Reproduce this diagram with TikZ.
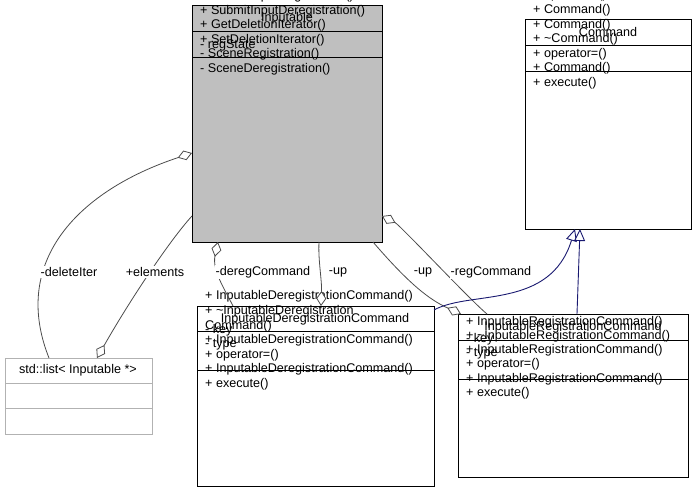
\documentclass[tikz,border=0pt]{standalone}
\usepackage{fontspec}
\setmainfont{Liberation Sans}
\usetikzlibrary{arrows.meta}
\definecolor{navy}{RGB}{25,25,112}
\definecolor{boxgray}{RGB}{191,191,191}
\begin{document}
\begin{tikzpicture}[x=1pt,y=-1pt,
  txt/.style={font=\fontsize{12.6}{14.6}\selectfont, inner sep=0pt, align=left, anchor=base west},
  ttl/.style={font=\fontsize{12.6}{12}\selectfont, inner sep=0pt},
  lbl/.style={font=\fontsize{12.6}{12}\selectfont, inner sep=1pt, fill=white},
  box/.style={draw=black, line width=0.9pt},
  agg/.style={draw=black!70, line width=0.8pt, {Diamond[open,length=15pt,width=10pt,fill=white]}-},
  inh/.style={draw=navy, line width=0.9pt, -{Triangle[open,length=12pt,width=11pt,fill=white]}}]
\useasboundingbox (0,0) rectangle (694,492);
% Inputable
\path[box, fill=boxgray] (192,5) rectangle (382,242);
\draw[line width=0.9pt] (192,31) -- (382,31) (192,57) -- (382,57);
\node[ttl] (inpT) at (287,18) {Inputable};
\node[txt] (inpA) at (200,48.5) {- regState};
\node[txt] (inpM) at (200,72.5) {+ Inputable()\\+ \textasciitilde Inputable()\\+ Inputable()\\+ operator=()\\+ KeyPressed()\\+ KeyReleased()\\+ SubmitInputRegistration()\\+ SubmitInputDeregistration()\\+ GetDeletionIterator()\\+ SetDeletionIterator()\\- SceneRegistration()\\- SceneDeregistration()};
% Command
\path[box, fill=white] (525,19) rectangle (691,229);
\draw[line width=0.9pt] (525,45) -- (691,45) (525,71) -- (691,71);
\node[ttl] (cmdT) at (608,32) {Command};
\node[txt] (cmdM) at (533,86.5) {+ Command()\\+ execute()\\+ \textasciitilde Command()\\+ operator=()\\+ Command()\\+ Command()\\+ \textasciitilde Command()\\+ operator=()\\+ Command()\\+ execute()};
% Dereg
\path[box, fill=white] (197,306) rectangle (434,486);
\draw[line width=0.9pt] (197,331) -- (434,331) (197,370) -- (434,370);
\node[ttl] (derT) at (315,319) {InputableDeregistrationCommand};
\node[txt, font=\fontsize{12.6}{14}\selectfont] (derA) at (205,347.5) {- key\\- type};
\node[txt] (derM) at (205,387.5) {+ InputableDeregistrationCommand()\\+ \textasciitilde InputableDeregistration\\Command()\\+ InputableDeregistrationCommand()\\+ operator=()\\+ InputableDeregistrationCommand()\\+ execute()};
% Reg
\path[box, fill=white] (458,314) rectangle (688,477);
\draw[line width=0.9pt] (458,340) -- (688,340) (458,379) -- (688,379);
\node[ttl] (regT) at (573,327) {InputableRegistrationCommand};
\node[txt, font=\fontsize{12.6}{14}\selectfont] (regA) at (466,356.5) {- key\\- type};
\node[txt, font=\fontsize{12.6}{14.3}\selectfont] (regM) at (466,396.5) {+ InputableRegistrationCommand()\\+ \textasciitilde InputableRegistrationCommand()\\+ InputableRegistrationCommand()\\+ operator=()\\+ InputableRegistrationCommand()\\+ execute()};
% std::list
\path[draw=black!30, line width=0.9pt, fill=white] (5,358) rectangle (152,434);
\draw[black!30, line width=0.9pt] (5,383) -- (152,383) (5,408) -- (152,408);
\node[ttl] (lstT) at (78,370) {std::list< Inputable *>};
% anchor coordinates
\coordinate (inpL1) at (192,153);
\coordinate (inpL2) at (192,216);
\coordinate (inpB1) at (218,242);
\coordinate (inpB2) at (319,242);
\coordinate (inpB3) at (373,242);
\coordinate (inpR) at (382,216);
\coordinate (lstA) at (49,358);
\coordinate (lstB) at (97,358);
\coordinate (derA1) at (233,306);
\coordinate (derA2) at (321,306);
\coordinate (derR) at (434,310);
\coordinate (regA1) at (461,314);
\coordinate (regA2) at (487,314);
\coordinate (regA3) at (577,314);
\coordinate (cmdB1) at (575,229);
\coordinate (cmdB2) at (580,229);
% connectors
\draw[agg] (inpL1) .. controls (80,190) and (10,260) .. (lstA);
\draw[agg] (lstB) .. controls (130,300) and (170,240) .. (inpL2);
\draw[agg] (inpB1) .. controls (212,270) and (225,290) .. (derA1);
\draw[agg] (derA2) .. controls (322,280) and (318,260) .. (inpB2);
\draw[agg] (regA1) .. controls (430,300) and (410,285) .. (inpB3);
\draw[agg] (inpR) .. controls (400,225) and (470,300) .. (regA2);
\draw[inh] (derR) .. controls (470,290) and (550,310) .. (cmdB1);
\draw[inh] (regA3) -- (cmdB2);
% labels
\node[lbl] (l1) at (69,272) {-deleteIter};
\node[lbl] (l2) at (155,272) {+elements};
\node[lbl] (l3) at (263,272) {-deregCommand};
\node[lbl] (l4) at (338,272) {-up};
\node[lbl] (l5) at (423,272) {-up};
\node[lbl] (l6) at (491,272) {-regCommand};
\end{tikzpicture}
\end{document}
